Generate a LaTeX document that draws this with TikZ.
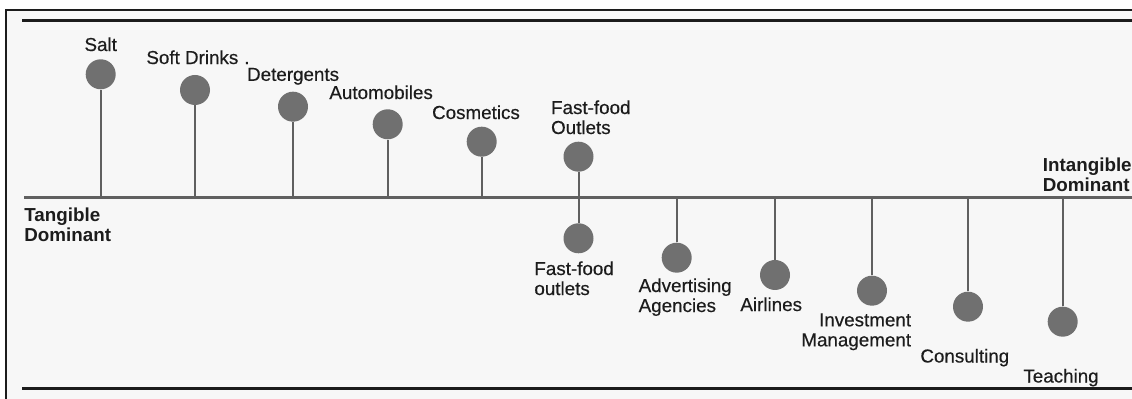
\documentclass[tikz,border=0pt]{standalone}
\usepackage{fontspec}
\setmainfont{Liberation Sans}
\newfontfamily\medfont[FakeBold=0.4]{Liberation Sans}
\usepackage{tikz}

\definecolor{dotgray}{RGB}{112,112,112}
\definecolor{stemgray}{RGB}{96,96,96}
\definecolor{inkgray}{RGB}{28,28,28}
\definecolor{papergray}{RGB}{247,247,247}

\begin{document}
\begin{tikzpicture}[
     % define styles
     dot/.style={
         circle,
         fill=dotgray,
         inner sep=0pt,
         minimum size=15pt
     },
     stem/.style={
         draw=stemgray,
         line width=1pt
     },
     rule/.style={
         draw=inkgray,
         line width=1.5pt
     },
     lbl/.style={
         inner sep=0pt,
         text=inkgray,
         font=\fontsize{9.4}{10}\medfont
     },
     dominant/.style={
         lbl,
         align=left,
         font=\fontsize{9.4}{10}\selectfont\bfseries
     },
     x=0.5pt, y=-0.5pt
]
\useasboundingbox (0,0) rectangle (1132,399);
% paper and frame
\fill[papergray] (6,10) rectangle (1132,399);
\draw[line width=0.8pt, inkgray] (6,399) |- (1132,10);
\draw[rule] (22,21) -- (1132,21);
\draw[rule] (22,389) -- (1132,389);

% axis from tangible to intangible
\coordinate (axisL) at (24,197.5);
\coordinate (axisR) at (1132,197.5);
\draw[stemgray, line width=1.2pt] (axisL) -- (axisR);

% define dots
\node[dot] (salt)         at (100.7,74.3)  {};
\node[dot] (softdrinks)   at (195,90)      {};
\node[dot] (detergents)   at (293,106.7)   {};
\node[dot] (automobiles)  at (387.7,124.3) {};
\node[dot] (cosmetics)    at (481.7,141.7) {};
\node[dot] (fastfoodup)   at (578.5,156.7) {};
\node[dot] (fastfooddown) at (578.5,238.3) {};
\node[dot] (advertising)  at (676.7,257.7) {};
\node[dot] (airlines)     at (775,275)     {};
\node[dot] (investment)   at (872,290.7)   {};
\node[dot] (consulting)   at (968,306.7)   {};
\node[dot] (teaching)     at (1062.7,321.7) {};

% stems down to the axis
\draw[stem] (salt) -- (salt |- axisL);
\draw[stem] (softdrinks) -- (softdrinks |- axisL);
\draw[stem] (detergents) -- (detergents |- axisL);
\draw[stem] (automobiles) -- (automobiles |- axisL);
\draw[stem] (cosmetics) -- (cosmetics |- axisL);
\draw[stem] (fastfoodup) -- (fastfooddown);
\draw[stem] (advertising) -- (advertising |- axisL);
\draw[stem] (airlines) -- (airlines |- axisL);
\draw[stem] (investment) -- (investment |- axisL);
\draw[stem] (consulting) -- (consulting |- axisL);
\draw[stem] (teaching) -- (teaching |- axisL);

% labels
\node[lbl, anchor=north] (salttext) at (100.7,37) {Salt};
\node[lbl, anchor=north west] (softdrinkstext) at (146,50) {Soft Drinks\hspace{3pt}.};
\node[lbl, anchor=north west] (detergentstext) at (246.7,67.5) {Detergents};
\node[lbl, anchor=north west] (automobilestext) at (329,85) {Automobiles};
\node[lbl, anchor=north west] (cosmeticstext) at (431.7,105) {Cosmetics};
\node[lbl, anchor=north west, align=left] (fastfooduptext) at (550.7,100) {Fast-food\\Outlets};
\node[lbl, anchor=north west, align=left] (fastfooddowntext) at (534,261) {Fast-food\\outlets};
\node[lbl, anchor=north west, align=left] (advertisingtext) at (638.3,278) {Advertising\\Agencies};
\node[lbl, anchor=north west] (airlinestext) at (740,297) {Airlines};
\node[lbl, anchor=north east, align=right] (investmenttext) at (911.5,313) {Investment\\Management};
\node[lbl, anchor=north west] (consultingtext) at (920,348.5) {Consulting};
\node[lbl, anchor=north west] (teachingtext) at (1023,368.5) {Teaching};

\node[dominant, anchor=north west] (tangible) at (24,207) {Tangible\\Dominant};
\node[dominant, anchor=north west] (intangible) at (1042.5,157) {Intangible\\Dominant};
\end{tikzpicture}
\end{document}
